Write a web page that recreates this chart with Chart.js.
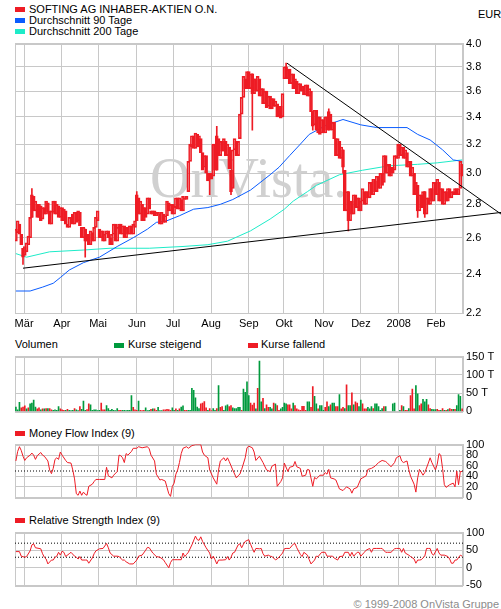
<!DOCTYPE html>
<html lang="de">
<head>
<meta charset="UTF-8" />
<title>Softing AG – Chart</title>
<script src="https://cdn.jsdelivr.net/npm/chart.js"></script>
<style>
  body { margin:0; background:#fff; }
  #wrap { position:relative; width:501px; height:609px; overflow:hidden; font-family:'Liberation Sans', Arial, sans-serif; font-size:11px; line-height:11px; color:#000; }
  #wrap canvas, .t, .sq { position:absolute; }
  .t { white-space:nowrap; }
  .sq { width:10px; height:5px; }
</style>
</head>
<body>
<div id="wrap">
  <div class="sq" style="left:15px;top:7px;background:#ee1c25"></div>
  <div class="t" style="left:29px;top:4px">SOFTING AG INHABER-AKTIEN O.N.</div>
  <div class="sq" style="left:15px;top:18px;background:#0a5cff"></div>
  <div class="t" style="left:29px;top:15px">Durchschnitt 90 Tage</div>
  <div class="sq" style="left:15px;top:29px;background:#1debc8"></div>
  <div class="t" style="left:29px;top:26px">Durchschnitt 200 Tage</div>
  <div class="t" style="left:478px;top:9px">EUR</div>

  <div class="t" style="left:15px;top:339px">Volumen</div>
  <div class="sq" style="left:114px;top:343px;background:#009a3d"></div>
  <div class="t" style="left:128px;top:339px">Kurse steigend</div>
  <div class="sq" style="left:248px;top:343px;background:#ee1c25"></div>
  <div class="t" style="left:261px;top:339px">Kurse fallend</div>

  <div class="sq" style="left:15px;top:431px;background:#ee1c25"></div>
  <div class="t" style="left:29px;top:428px">Money Flow Index (9)</div>
  <div class="sq" style="left:15px;top:518px;background:#ee1c25"></div>
  <div class="t" style="left:29px;top:515px">Relative Strength Index (9)</div>

  <div class="t" style="right:2px;top:599px;color:#8c8c8c">© 1999-2008 OnVista Gruppe</div>

  <canvas id="price" width="501" height="300" style="left:0;top:34px"></canvas>
  <canvas id="vol" width="501" height="74" style="left:0;top:347px"></canvas>
  <canvas id="mfi" width="501" height="72" style="left:0;top:435px"></canvas>
  <canvas id="rsi" width="501" height="72" style="left:0;top:523px"></canvas>
</div>
<script>
// ---- data (one entry per trading day, Feb 2007 - Feb 2008) ----
const DAYS = 252;
const monthPos = [4.6, 25.9, 46.2, 68.1, 88.4, 109.8, 131, 150.8, 173.3, 194.1, 215.3, 236.3];
const monthNames = ['Mär', 'Apr', 'Mai', 'Jun', 'Jul', 'Aug', 'Sep', 'Okt', 'Nov', 'Dez', '2008', 'Feb'];
const priceTicks = [2.2, 2.4, 2.6, 2.8, 3.0, 3.2, 3.4, 3.6, 3.8, 4.0];

const openPx = [
  2.58,2.63,2.68,2.62,2.54,2.50,2.52,2.56,2.60,2.72,
  2.85,2.76,2.80,2.72,2.79,2.71,2.78,2.74,2.81,2.76,
  2.68,2.75,2.82,2.74,2.79,2.72,2.78,2.70,2.76,2.68,
  2.66,2.76,2.74,2.68,2.75,2.70,2.75,2.66,2.60,2.65,
  2.58,2.62,2.56,2.63,2.58,2.66,2.70,2.65,2.60,2.64,
  2.58,2.62,2.64,2.60,2.56,2.62,2.68,2.58,2.66,2.68,
  2.62,2.67,2.60,2.66,2.62,2.67,2.62,2.66,2.70,2.84,
  2.74,2.80,2.70,2.78,2.74,2.84,2.76,2.74,2.76,2.73,
  2.75,2.74,2.68,2.74,2.69,2.73,2.81,2.76,2.80,2.74,
  2.78,2.84,2.77,2.83,2.76,2.84,2.83,2.88,3.08,3.18,
  3.26,3.17,3.27,3.18,3.24,3.14,3.04,3.12,3.00,2.96,
  3.00,2.98,3.20,3.02,3.24,3.12,3.22,3.15,3.22,3.12,
  3.18,3.02,2.90,3.16,3.22,3.12,3.24,3.42,3.55,3.70,
  3.62,3.76,3.62,3.74,3.58,3.70,3.60,3.70,3.56,3.62,
  3.50,3.60,3.48,3.56,3.46,3.54,3.48,3.50,3.40,3.48,
  3.40,3.70,3.80,3.70,3.78,3.66,3.74,3.62,3.68,3.58,
  3.66,3.60,3.64,3.57,3.65,3.56,3.60,3.44,3.34,3.45,
  3.28,3.40,3.28,3.38,3.28,3.40,3.30,3.42,3.30,3.36,
  3.24,3.12,3.22,3.10,3.16,3.02,2.76,2.88,2.70,2.82,
  2.74,2.86,2.78,2.84,2.76,2.82,2.88,2.80,2.88,2.84,
  2.94,2.86,2.95,2.88,2.98,2.90,3.00,2.94,3.12,3.00,
  3.06,2.98,3.04,3.02,3.12,3.10,3.20,3.12,3.18,3.10,
  3.14,3.04,3.08,2.98,3.00,2.86,2.92,2.76,2.86,2.78,
  2.88,2.74,2.84,2.80,2.90,2.82,2.94,2.86,2.94,2.82,
  2.90,2.80,2.88,2.82,2.90,2.84,2.88,2.86,2.90,2.86,
  2.90,3.06
];
const closePx = [
  2.65,2.70,2.62,2.56,2.49,2.55,2.57,2.61,2.72,2.86,
  2.76,2.82,2.72,2.80,2.70,2.78,2.74,2.82,2.75,2.68,
  2.76,2.82,2.74,2.80,2.72,2.78,2.70,2.77,2.68,2.66,
  2.72,2.76,2.68,2.75,2.69,2.76,2.67,2.60,2.66,2.58,
  2.62,2.56,2.64,2.58,2.66,2.72,2.76,2.60,2.64,2.58,
  2.62,2.64,2.60,2.56,2.62,2.68,2.58,2.66,2.68,2.62,
  2.67,2.60,2.66,2.62,2.67,2.62,2.68,2.70,2.86,2.74,
  2.82,2.70,2.78,2.72,2.84,2.77,2.74,2.76,2.73,2.75,
  2.74,2.68,2.75,2.69,2.73,2.82,2.76,2.80,2.74,2.79,
  2.84,2.77,2.84,2.76,2.85,2.83,2.85,3.08,3.20,3.26,
  3.17,3.28,3.18,3.26,3.14,3.02,3.12,3.00,2.95,3.00,
  2.96,3.20,3.02,3.26,3.12,3.22,3.15,3.24,3.12,3.20,
  3.03,2.88,3.16,3.24,3.12,3.22,3.42,3.55,3.72,3.62,
  3.76,3.62,3.74,3.58,3.70,3.60,3.72,3.56,3.62,3.50,
  3.60,3.47,3.56,3.46,3.54,3.48,3.52,3.40,3.48,3.39,
  3.58,3.80,3.70,3.78,3.66,3.74,3.62,3.70,3.58,3.66,
  3.60,3.64,3.57,3.65,3.56,3.62,3.44,3.33,3.45,3.30,
  3.40,3.27,3.38,3.28,3.40,3.30,3.44,3.30,3.36,3.24,
  3.12,3.24,3.10,3.18,3.04,2.76,2.88,2.70,2.82,2.74,
  2.86,2.78,2.84,2.76,2.82,2.90,2.80,2.88,2.84,2.94,
  2.86,2.96,2.88,2.98,2.90,3.00,2.92,3.12,3.00,3.06,
  2.98,3.04,3.00,3.12,3.10,3.20,3.12,3.18,3.10,3.16,
  3.04,3.08,2.98,3.04,2.86,2.94,2.76,2.86,2.78,2.88,
  2.74,2.84,2.80,2.90,2.82,2.94,2.86,2.96,2.82,2.90,
  2.80,2.88,2.82,2.90,2.84,2.88,2.86,2.90,2.86,2.90,
  3.08,2.98
];
// days with visible wicks beyond the body
const wickDay  = [4, 9, 39, 68, 109, 113, 121, 133, 152, 167, 176, 184, 187, 226, 230];
const wickLow  = [2.45, 2.72, 2.49, 2.70, 2.86, 3.02, 2.86, 3.30, 3.70, 3.30, 3.30, 3.00, 2.64, 2.72, 2.72];
const wickHigh = [2.54, 2.90, 2.65, 2.88, 3.00, 3.33, 3.02, 3.74, 3.83, 3.44, 3.46, 3.16, 2.88, 2.92, 2.88];

// moving averages [day, EUR]
const ma90 = [[0,2.31],[8,2.31],[15,2.33],[21,2.35],[25,2.38],[30,2.42],[38,2.46],[47,2.49],[57,2.55],[66,2.60],
  [74,2.65],[79,2.69],[85,2.70],[92,2.73],[100,2.77],[108,2.78],[115,2.80],[122,2.83],[132,2.89],[143,2.99],
  [148,3.04],[154,3.12],[160,3.20],[165,3.27],[175,3.34],[184,3.38],[194,3.34],[203,3.32],[220,3.32],[226,3.27],
  [233,3.23],[240,3.16],[246,3.09],[251,3.08]];
const ma200 = [[0,2.51],[6,2.49],[19,2.52],[38,2.53],[53,2.54],[75,2.54],[94,2.55],[108,2.56],[119,2.58],[132,2.64],
  [143,2.71],[151,2.77],[156,2.82],[164,2.88],[169,2.92],[182,2.99],[195,3.02],[210,3.05],[226,3.06],[237,3.07],[251,3.09]];
// trend lines [day, EUR] (run past the right edge)
const supportLine = [[4, 2.43], [272.9, 2.75]];
const resistLine  = [[152.5, 3.83], [272.9, 2.74]];

// volume in thousand shares
const volUp = [
  12,4,25,0,0,0,7,0,21,23, 31,12,0,0,4,0,7,0,8,0, 0,3,4,3,13,0,0,0,3,0, 3,2,3,0,4,2,0,6,28,3,
  0,0,18,3,4,4,2,3,0,0, 0,16,8,3,6,3,2,8,0,0, 3,3,2,3,3,43,0,0,0,28, 0,0,0,10,2,3,0,7,0,0,
  11,2,2,0,0,0,0,0,10,3, 0,3,0,12,15,0,0,3,3,63, 58,37,12,8,0,0,0,0,3,0, 0,8,3,0,71,0,0,3,15,18,
  0,0,10,8,8,11,11,0,61,52, 81,43,0,0,0,7,0,138,26,0, 8,0,0,11,7,0,21,0,0,7, 11,23,21,0,0,0,23,0,0,0,
  0,0,0,0,26,26,0,0,41,21, 0,16,16,3,0,0,13,0,23,23, 0,0,46,0,0,8,0,16,16,0, 18,0,0,13,31,0,0,0,11,7,
  13,0,21,21,13,3,8,0,13,0, 0,0,21,23,0,0,3,0,13,0, 0,8,0,0,0,71,48,0,0,33, 26,33,0,0,6,5,5,0,0,3,
  0,3,0,5,0,0,6,0,16,46, 41,0
];
const volDown = [
  0,0,0,10,12,15,0,10,0,0, 0,0,7,10,0,7,0,8,0,8, 4,0,0,0,0,7,4,3,0,6, 0,0,0,8,0,0,13,0,0,0,
  5,21,0,0,0,0,0,0,23,4, 4,0,0,0,0,0,0,0,3,3, 0,0,0,0,0,0,11,4,3,0, 3,2,3,0,0,0,6,0,7,3,
  0,0,0,4,4,6,5,3,0,0, 7,0,7,0,0,3,3,0,0,0, 0,0,0,0,21,23,27,10,0,8, 2,0,0,8,0,11,13,0,0,0,
  13,16,0,0,0,0,0,3,0,0, 0,0,23,17,23,0,63,0,0,36, 0,18,11,0,0,23,0,16,3,0, 0,0,0,18,18,7,0,16,7,4,
  3,14,14,3,0,0,11,68,0,0, 7,0,0,0,11,26,0,18,0,0, 13,13,0,7,11,0,73,0,0,51, 0,26,23,0,0,21,7,7,0,0,
  0,8,0,0,0,0,0,13,0,0, 0,0,0,0,0,0,0,16,0,3, 3,0,43,61,7,0,0,16,21,0, 0,0,18,8,0,0,0,6,3,0,
  8,0,3,0,8,6,0,6,0,0, 0,7
];
const volTicks = [0, 50, 100, 150];

// indicators [day, value]
const mfi = [[0,69],[1,87],[2,96],[3,89],[4,78],[5,70],[6,75],[8,80],[9,84],[10,80],[11,72],[12,79],[14,85],[15,80],[16,78],
  [18,69],[19,52],[20,45],[21,55],[22,72],[23,75],[24,72],[25,86],[26,80],[28,70],[29,66],[31,65],[32,52],[33,35],[34,7],
  [35,4],[36,12],[37,4],[38,10],[39,6],[40,4],[41,21],[43,25],[44,30],[45,34],[47,34],[50,34],[51,57],[52,41],[54,37],
  [55,42],[57,49],[58,80],[59,79],[60,75],[61,66],[62,83],[63,80],[65,87],[66,93],[68,93],[69,96],[71,94],[74,96],[75,92],
  [76,80],[78,69],[79,44],[81,33],[82,34],[84,31],[85,19],[86,7],[87,2],[88,21],[89,27],[90,44],[91,52],[92,66],[93,83],
  [94,93],[96,96],[97,93],[99,98],[101,100],[104,100],[105,86],[106,80],[108,75],[109,52],[111,37],[113,25],[114,52],[115,69],[117,75],
  [118,69],[119,75],[120,68],[122,52],[124,37],[125,41],[126,44],[127,53],[129,75],[130,94],[131,97],[133,94],[134,86],[135,70],[137,78],
  [139,66],[141,52],[143,49],[144,59],[146,63],[147,21],[149,30],[150,37],[151,65],[153,49],[154,57],[156,59],[157,68],[158,58],[160,55],
  [161,40],[163,42],[164,53],[165,52],[167,21],[168,38],[169,35],[171,42],[173,42],[174,47],[175,44],[176,53],[177,37],[179,35],[180,33],
  [182,16],[184,13],[186,20],[188,16],[189,8],[190,16],[192,19],[194,35],[195,37],[197,41],[198,53],[200,55],[202,59],[204,66],[206,70],
  [208,68],[209,65],[211,58],[213,66],[214,75],[216,79],[217,69],[218,66],[220,69],[221,53],[222,40],[224,25],[225,10],[226,37],[227,53],
  [228,48],[229,42],[230,47],[232,65],[233,75],[234,66],[236,52],[237,63],[238,83],[239,80],[240,55],[241,24],[242,19],[244,24],[246,27],
  [247,20],[248,50],[249,24],[250,49],[251,49]];
const rsi = [[0,46],[2,46],[3,33],[5,30],[6,32],[8,48],[9,65],[10,68],[11,57],[13,55],[14,54],[15,40],[16,30],[17,25],[18,11],
  [20,22],[21,22],[22,30],[23,33],[24,44],[25,36],[26,47],[27,44],[28,32],[30,40],[31,44],[33,33],[34,30],[35,25],[36,32],
  [37,22],[39,22],[40,22],[41,13],[43,28],[44,40],[45,48],[47,54],[49,55],[51,69],[52,57],[53,42],[55,33],[57,33],[58,32],
  [60,22],[61,22],[62,17],[64,11],[66,11],[68,22],[69,33],[71,36],[73,50],[74,58],[75,57],[77,42],[79,32],[81,30],[83,23],
  [84,15],[86,0],[87,15],[88,23],[89,23],[91,23],[93,23],[94,42],[95,32],[96,38],[97,44],[99,65],[101,90],[102,80],[103,78],
  [104,88],[105,75],[107,57],[109,42],[110,25],[111,33],[112,23],[113,11],[114,22],[116,22],[118,23],[119,32],[120,22],[121,30],[122,42],
  [123,44],[125,65],[126,68],[127,57],[128,67],[129,75],[131,80],[132,67],[133,55],[134,44],[135,55],[137,54],[138,55],[139,40],[140,33],
  [142,36],[143,33],[144,32],[146,23],[147,25],[149,36],[150,42],[151,54],[152,55],[154,55],[156,67],[157,69],[158,57],[160,38],[161,32],
  [162,44],[164,36],[165,23],[166,11],[168,22],[169,33],[170,32],[172,44],[174,44],[175,33],[177,33],[178,33],[179,28],[181,22],[182,32],
  [184,33],[185,44],[187,44],[188,33],[189,44],[190,33],[192,44],[193,44],[194,33],[196,44],[197,50],[199,55],[200,44],[201,55],[203,55],
  [205,55],[206,55],[208,44],[209,44],[211,44],[213,54],[214,55],[216,55],[217,44],[218,55],[219,42],[221,36],[222,32],[224,25],[225,13],
  [226,22],[227,22],[228,23],[230,33],[231,55],[232,55],[233,55],[234,40],[235,36],[237,55],[238,42],[239,36],[241,36],[243,32],[244,25],
  [245,13],[246,13],[247,22],[248,22],[250,36],[251,33]];
const mfiTicks = [0, 20, 40, 60, 80, 100];
const rsiTicks = [-50, 0, 50, 100];

// ---- styling ----
const RED = '#ee1c25', GREEN = '#009a3d', BLUE = '#0a5cff', CYAN = '#1debc8', GRID = '#c8c8c8';
Chart.defaults.font.family = "'Liberation Sans', Arial, sans-serif";
Chart.defaults.font.size = 11;
Chart.defaults.color = '#000';

const pts = arr => arr.map(p => ({ x: p[0], y: p[1] }));

function xAxis(showLabels, h) {
  return {
    type: 'linear', min: -0.5, max: DAYS - 0.5, offset: false,
    grid: { color: GRID, drawTicks: false, offset: false },
    border: { color: GRID },
    afterBuildTicks: s => { s.ticks = monthPos.map(v => ({ value: v })); },
    afterFit: s => { s.height = h; },
    ticks: { display: showLabels, padding: 4, maxRotation: 0, autoSkip: false, callback: (v, i) => monthNames[i] }
  };
}
function yAxis(type, min, max, tickVals, fmt) {
  return {
    type, min, max, position: 'right',
    grid: { color: GRID, drawTicks: false },
    border: { color: GRID },
    afterBuildTicks: s => { s.ticks = tickVals.map(v => ({ value: v })); },
    afterFit: s => { s.width = 38; },
    ticks: { padding: 3, autoSkip: false, callback: fmt }
  };
}
const baseOpts = {
  responsive: false, animation: false, events: [],
  layout: { padding: { left: 15, top: 6, right: 0, bottom: 0 } },
  plugins: { legend: { display: false }, tooltip: { enabled: false } }
};
const frame = {
  id: 'frame',
  beforeDatasetsDraw(chart) {
    const { ctx, chartArea: a } = chart;
    ctx.save();
    ctx.strokeStyle = GRID;
    ctx.lineWidth = 1;
    ctx.strokeRect(Math.round(a.left) + 0.5, Math.round(a.top) + 0.5, Math.round(a.right - a.left) - 1, Math.round(a.bottom - a.top));
    ctx.restore();
  }
};
const watermark = {
  id: 'watermark',
  beforeDatasetsDraw(chart) {
    const ctx = chart.ctx;
    ctx.save();
    ctx.font = "56px 'Liberation Serif', 'DejaVu Serif', serif";
    ctx.fillStyle = '#d0d0d0';
    ctx.textBaseline = 'alphabetic';
    ctx.fillText('OnVista.', 150, 163);
    ctx.restore();
  }
};
const line = (data, color, order, extra) => Object.assign({
  type: 'line', data, borderColor: color, borderWidth: 1, pointRadius: 0, tension: 0, order
}, extra || {});

// ---- price panel ----
new Chart(document.getElementById('price'), {
  type: 'bar',
  data: {
    datasets: [
      line(pts(supportLine), '#000', 0, { clip: false }),
      line(pts(resistLine), '#000', 0, { clip: false }),
      {
        type: 'bar', order: 1, grouped: false, barThickness: 3,
        data: closePx.map((c, i) => ({ x: i, y: [openPx[i], c] })),
        borderColor: RED, borderWidth: 1, borderSkipped: false,
        backgroundColor: closePx.map((c, i) => c < openPx[i] ? RED : 'rgba(255,255,255,0)')
      },
      {
        type: 'bar', order: 2, grouped: false, barThickness: 1,
        data: wickDay.map((d, k) => ({ x: d, y: [wickLow[k], wickHigh[k]] })),
        backgroundColor: RED
      },
      line(pts(ma90), BLUE, 3),
      line(pts(ma200), CYAN, 4)
    ]
  },
  options: Object.assign({}, baseOpts, {
    scales: {
      x: xAxis(true, 21),
      y: yAxis('logarithmic', 2.2, 4.0, priceTicks, v => Number(v).toFixed(1))
    }
  }),
  plugins: [frame, watermark]
});

// ---- volume panel ----
new Chart(document.getElementById('vol'), {
  type: 'bar',
  data: {
    datasets: [
      { data: volUp.map((v, i) => ({ x: i, y: v || null })), backgroundColor: GREEN, barThickness: 1, grouped: false },
      { data: volDown.map((v, i) => ({ x: i, y: v || null })), backgroundColor: RED, barThickness: 1, grouped: false }
    ]
  },
  options: Object.assign({}, baseOpts, {
    scales: {
      x: xAxis(false, 8),
      y: yAxis('linear', 0, 150, volTicks, v => v === 0 ? '0' : v + ' T')
    }
  }),
  plugins: [frame]
});

// ---- Money Flow Index ----
new Chart(document.getElementById('mfi'), {
  type: 'line',
  data: {
    datasets: [
      line([{ x: -0.5, y: 50 }, { x: DAYS - 0.5, y: 50 }], '#000', 1, { borderDash: [1, 2] }),
      line(pts(mfi), RED, 0)
    ]
  },
  options: Object.assign({}, baseOpts, {
    scales: {
      x: xAxis(false, 6),
      y: yAxis('linear', 0, 100, mfiTicks, v => String(v))
    }
  }),
  plugins: [frame]
});

// ---- Relative Strength Index ----
new Chart(document.getElementById('rsi'), {
  type: 'line',
  data: {
    datasets: [
      line([{ x: -0.5, y: 70 }, { x: DAYS - 0.5, y: 70 }], '#000', 1, { borderDash: [1, 2] }),
      line([{ x: -0.5, y: 30 }, { x: DAYS - 0.5, y: 30 }], '#000', 1, { borderDash: [1, 2] }),
      line(pts(rsi), RED, 0)
    ]
  },
  options: Object.assign({}, baseOpts, {
    scales: {
      x: xAxis(false, 6),
      y: yAxis('linear', -50, 100, rsiTicks, v => String(v))
    }
  }),
  plugins: [frame]
});
</script>
</body>
</html>
